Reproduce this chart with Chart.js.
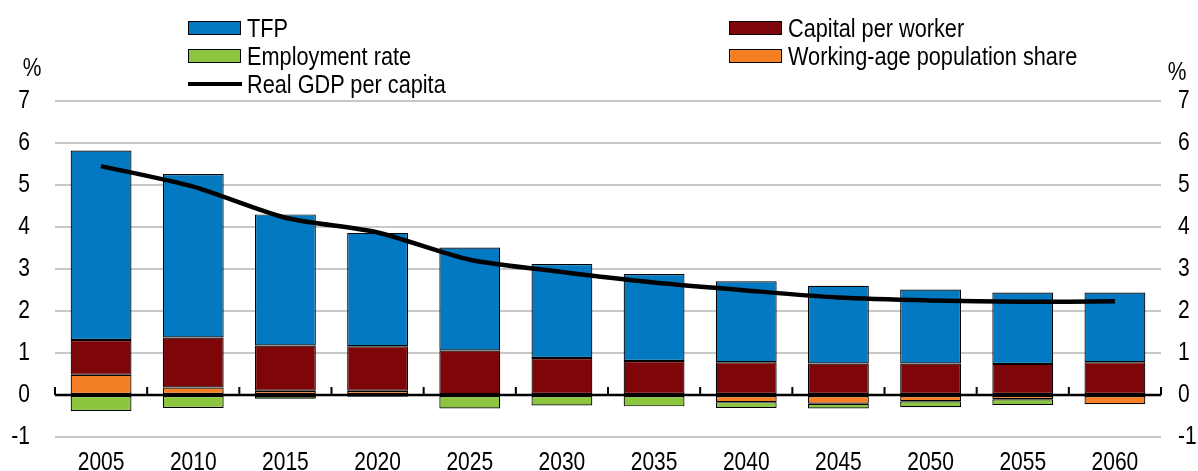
<!DOCTYPE html>
<html>
<head>
<meta charset="utf-8">
<script src="https://cdn.jsdelivr.net/npm/chart.js@4.4.1/dist/chart.umd.min.js"></script>
<style>
  html, body { margin: 0; padding: 0; background: #fff; }
  #wrap { position: relative; width: 1198px; height: 471px; overflow: hidden; }
  canvas { position: absolute; left: 0; top: 0; }
  .txt { position: absolute; font-family: "Liberation Sans", Arial, sans-serif; color: #000; white-space: nowrap; transform: scaleX(0.84); }
  .lg { position: absolute; height: 28px; display: flex; align-items: center; }
  .sw { width: 51px; height: 12px; border: 1px solid #000; margin-right: 6px; flex: none; }
  .ln { width: 54px; height: 4px; background: #000; margin-right: 5px; flex: none; }
  .lt { font-family: "Liberation Sans", Arial, sans-serif; font-size: 26px; line-height: 28px; display: inline-block; transform: scaleX(0.835); transform-origin: 0 50%; white-space: nowrap; }
</style>
</head>
<body>
<div id="wrap">
  <canvas id="c" width="1198" height="471"></canvas>
</div>
<script>
// ---- data ----
const categories = ['2005','2010','2015','2020','2025','2030','2035','2040','2045','2050','2055','2060'];
const tfp        = [4.51, 3.89, 3.12, 2.70, 2.45, 2.24, 2.07, 1.93, 1.85, 1.76, 1.70, 1.66];
const capital    = [0.83, 1.19, 1.08, 1.06, 1.04, 0.88, 0.81, 0.78, 0.75, 0.75, 0.74, 0.78];
const employment = [-0.38, -0.31, -0.09, -0.04, -0.32, -0.25, -0.27, -0.14, -0.11, -0.14, -0.14, 0];
const workingAge = [0.48, 0.18, 0.10, 0.10, 0.02, 0, 0, -0.17, -0.21, -0.15, -0.10, -0.22];
const gdpPerCapita = [5.45, 4.96, 4.22, 3.87, 3.22, 2.93, 2.68, 2.49, 2.32, 2.25, 2.22, 2.23];
const yTicks = [-1, 0, 1, 2, 3, 4, 5, 6, 7];
const unitLabel = '%';

const FONT = '"Liberation Sans", Arial, sans-serif';
const NARROW = 0.84;
const C_TFP = '#0279c0', C_CAP = '#7e0508', C_EMP = '#8cc63f', C_WAP = '#f47f24';

function barDs(label, data, color) {
  return { type: 'bar', label, data, backgroundColor: color, borderColor: '#000',
           borderWidth: 1.2, borderSkipped: false, stack: 'bars', order: 1,
           barPercentage: 0.66, categoryPercentage: 1.0, yAxisID: 'y' };
}

const datasets = [
  barDs('Working-age population share', workingAge, C_WAP),
  barDs('Employment rate', employment, C_EMP),
  barDs('Capital per worker', capital, C_CAP),
  barDs('TFP', tfp, C_TFP),
  { type: 'line', label: 'Real GDP per capita', data: gdpPerCapita, borderColor: '#000',
    borderWidth: 4.5, pointRadius: 0, tension: 0.25, stack: 'line', order: 0, yAxisID: 'y', fill: false }
];

function narrowText(ctx, text, x, y, align) {
  ctx.save();
  ctx.translate(x, y);
  ctx.scale(NARROW, 1);
  ctx.textAlign = align;
  ctx.textBaseline = 'alphabetic';
  ctx.fillText(text, 0, 0);
  ctx.restore();
}

const overlay = {
  id: 'overlay',
  afterDatasetsDraw(chart) {
    const ctx = chart.ctx, x = chart.scales.x, y = chart.scales.y, ca = chart.chartArea;
    const y0 = y.getPixelForValue(0);
    ctx.save();
    ctx.strokeStyle = '#000';
    ctx.lineWidth = 2.5;
    ctx.beginPath();
    ctx.moveTo(ca.left, y0); ctx.lineTo(ca.right, y0);
    ctx.stroke();
    ctx.lineWidth = 2;
    const n = categories.length;
    const step = (x.getPixelForValue(n - 1) - x.getPixelForValue(0)) / (n - 1);
    for (let i = 0; i <= n; i++) {
      const px = x.getPixelForValue(0) - step / 2 + i * step;
      ctx.beginPath(); ctx.moveTo(px, y0); ctx.lineTo(px, y0 - 8); ctx.stroke();
    }
    ctx.restore();
  },
  afterDraw(chart) {
    const ctx = chart.ctx, x = chart.scales.x, y = chart.scales.y, ca = chart.chartArea;
    ctx.save();
    ctx.fillStyle = '#000';
    ctx.font = '25px ' + FONT;
    yTicks.forEach(v => {
      const py = y.getPixelForValue(v) + 7;
      narrowText(ctx, String(v), ca.left - 25, py, 'right');
      narrowText(ctx, String(v), ca.right + 17, py, 'left');
    });
    categories.forEach((c, i) => {
      narrowText(ctx, c, x.getPixelForValue(i), 469.5 - (471 - chart.height), 'center');
    });
    ctx.restore();
  }
};

const chart = new Chart(document.getElementById('c'), {
  data: { labels: categories, datasets },
  options: {
    responsive: false, animation: false, devicePixelRatio: 1,
    layout: { padding: { top: 101, left: 0, right: 0, bottom: 0 } },
    plugins: { legend: { display: false }, tooltip: { enabled: false } },
    scales: {
      x: {
        stacked: true, offset: true,
        grid: { display: false, drawTicks: false },
        border: { display: false },
        ticks: { display: false },
        afterFit(s) { s.height = 34; }
      },
      y: {
        stacked: true, position: 'left', min: -1, max: 7,
        afterBuildTicks(s) { s.ticks = yTicks.map(v => ({ value: v })); },
        grid: { color: '#c8c8c8', lineWidth: 2, drawTicks: false },
        border: { display: false },
        ticks: { display: false },
        afterFit(s) { s.width = 55; }
      },
      y2: {
        position: 'right', min: -1, max: 7,
        afterBuildTicks(s) { s.ticks = yTicks.map(v => ({ value: v })); },
        grid: { display: false, drawTicks: false },
        border: { display: false },
        ticks: { display: false },
        afterFit(s) { s.width = 37; }
      }
    }
  },
  plugins: [overlay]
});

// ---- HTML legend and unit labels ----
const wrap = document.getElementById('wrap');
const legendOrder = [
  { i: 3, left: 188, cy: 28 }, { i: 2, left: 729, cy: 28 },
  { i: 1, left: 188, cy: 56 }, { i: 0, left: 729, cy: 56 },
  { i: 4, left: 188, cy: 84 }
];
legendOrder.forEach(o => {
  const ds = datasets[o.i];
  const d = document.createElement('div');
  d.className = 'lg';
  d.style.left = o.left + 'px';
  d.style.top = (o.cy - 14) + 'px';
  const sw = document.createElement('div');
  if (ds.type === 'line') { sw.className = 'ln'; }
  else { sw.className = 'sw'; sw.style.background = ds.backgroundColor; }
  const t = document.createElement('span');
  t.className = 'lt';
  t.textContent = ds.label;
  d.appendChild(sw); d.appendChild(t);
  wrap.appendChild(d);
});
[{ x: 32, y: 67 }, { x: 1177, y: 71 }].forEach(p => {
  const s = document.createElement('div');
  s.className = 'txt';
  s.style.fontSize = '25px';
  s.style.lineHeight = '28px';
  s.style.left = (p.x - 20) + 'px';
  s.style.width = '40px';
  s.style.textAlign = 'center';
  s.style.top = (p.y - 14) + 'px';
  s.textContent = unitLabel;
  wrap.appendChild(s);
});
</script>
</body>
</html>
